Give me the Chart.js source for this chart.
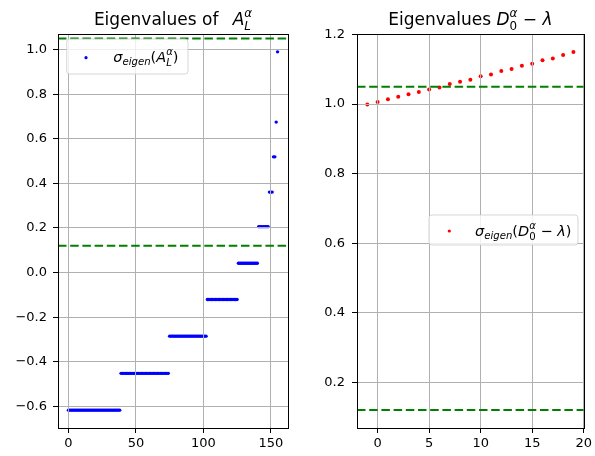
<!DOCTYPE html>
<html>
<head>
<meta charset="utf-8">
<script src="https://cdn.jsdelivr.net/npm/chart.js@4.4.0/dist/chart.umd.min.js"></script>
<style>
    html, body { margin: 0; padding: 0; background: #fff; }
    #wrap { position: relative; width: 595px; height: 456px; }
    #leftBox { position: absolute; left: 0; top: 0; width: 297px; height: 456px; }
    #rightBox { position: absolute; left: 297px; top: 0; width: 298px; height: 456px; }
</style>
</head>
<body>
<div id="wrap">
    <div id="leftBox"><canvas id="leftChart" width="297" height="456"></canvas></div>
    <div id="rightBox"><canvas id="rightChart" width="298" height="456"></canvas></div>
</div>
<script>
// valeurs propres de A_L (index 0..155)
const leftValues = [
    -0.617, -0.617, -0.617, -0.617, -0.617, -0.617, -0.617, -0.617, -0.617, -0.617, -0.617, -0.617, -0.617,
    -0.617, -0.617, -0.617, -0.617, -0.617, -0.617, -0.617, -0.617, -0.617, -0.617, -0.617, -0.617, -0.617,
    -0.617, -0.617, -0.617, -0.617, -0.617, -0.617, -0.617, -0.617, -0.617, -0.617, -0.617, -0.617, -0.617,
    -0.452, -0.452, -0.452, -0.452, -0.452, -0.452, -0.452, -0.452, -0.452, -0.452, -0.452, -0.452,
    -0.452, -0.452, -0.452, -0.452, -0.452, -0.452, -0.452, -0.452, -0.452, -0.452, -0.452, -0.452,
    -0.452, -0.452, -0.452, -0.452, -0.452, -0.452, -0.452, -0.452, -0.452, -0.452, -0.452, -0.452,
    -0.285, -0.285, -0.285, -0.285, -0.285, -0.285, -0.285, -0.285, -0.285, -0.285, -0.285, -0.285, -0.285, -0.285,
    -0.285, -0.285, -0.285, -0.285, -0.285, -0.285, -0.285, -0.285, -0.285, -0.285, -0.285, -0.285, -0.285, -0.285,
    -0.121, -0.121, -0.121, -0.121, -0.121, -0.121, -0.121, -0.121, -0.121, -0.121, -0.121, -0.121,
    -0.121, -0.121, -0.121, -0.121, -0.121, -0.121, -0.121, -0.121, -0.121, -0.121, -0.121,
    0.042, 0.042, 0.042, 0.042, 0.042, 0.042, 0.042, 0.042, 0.042, 0.042, 0.042, 0.042, 0.042, 0.042, 0.042,
    0.206, 0.206, 0.206, 0.206, 0.206, 0.206, 0.206, 0.206,
    0.361, 0.361, 0.361,
    0.519, 0.519,
    0.675,
    0.990
];
const leftTicksX = [0, 50, 100, 150];
const leftTicksY = [-0.6, -0.4, -0.2, 0.0, 0.2, 0.4, 0.6, 0.8, 1.0];
const leftLines = [1.05, 0.12];

// valeurs propres de D_0 - lambda
const rightX = [-1, 0, 1, 2, 3, 4, 5, 6, 7, 8, 9, 10, 11, 12, 13, 14, 15, 16, 17, 18, 19];
const rightValues = [0.999, 1.006, 1.014, 1.021, 1.028, 1.035, 1.042, 1.048, 1.058, 1.064, 1.070,
    1.080, 1.085, 1.095, 1.101, 1.110, 1.116, 1.126, 1.131, 1.141, 1.150];
const rightTicksX = [0, 5, 10, 15, 20];
const rightTicksY = [0.2, 0.4, 0.6, 0.8, 1.0, 1.2];
const rightLines = [1.05, 0.12];

const FONT = '"DejaVu Sans", "Liberation Sans", sans-serif';

function fmtNum(v, digits) {
    return v.toFixed(digits).replace('-', '\u2212');
}

// texte math simple : indices / exposants
function drawMath(ctx, parts, x, y, size, align) {
    let pos = 0, last = 0;
    const items = [];
    parts.forEach(p => {
        const fs = size * (p.s || 1);
        const font = (p.it ? 'italic ' : '') + fs + 'px ' + FONT;
        ctx.font = font;
        const w = ctx.measureText(p.t).width;
        const sx = p.back ? last : pos;
        items.push({ t: p.t, font: font, x: sx, dy: (p.dy || 0) * size });
        last = sx;
        pos = Math.max(pos, sx + w);
    });
    const x0 = align === 'center' ? x - pos / 2 : x;
    ctx.save();
    ctx.fillStyle = '#000';
    ctx.textBaseline = 'alphabetic';
    ctx.textAlign = 'left';
    items.forEach(it => {
        ctx.font = it.font;
        ctx.fillText(it.t, x0 + it.x, y + it.dy);
    });
    ctx.restore();
}

function drawLegendBox(ctx, x, y, w, h) {
    const r = 3;
    ctx.save();
    ctx.beginPath();
    ctx.moveTo(x + r, y);
    ctx.lineTo(x + w - r, y);
    ctx.quadraticCurveTo(x + w, y, x + w, y + r);
    ctx.lineTo(x + w, y + h - r);
    ctx.quadraticCurveTo(x + w, y + h, x + w - r, y + h);
    ctx.lineTo(x + r, y + h);
    ctx.quadraticCurveTo(x, y + h, x, y + h - r);
    ctx.lineTo(x, y + r);
    ctx.quadraticCurveTo(x, y, x + r, y);
    ctx.closePath();
    ctx.fillStyle = 'rgba(255,255,255,0.8)';
    ctx.fill();
    ctx.strokeStyle = 'rgba(204,204,204,0.8)';
    ctx.lineWidth = 1;
    ctx.stroke();
    ctx.restore();
}

const SUB = 0.7;
const leftTitle = [
    { t: 'Eigenvalues of  \u2009' },
    { t: 'A', it: true },
    { t: 'L', it: true, s: SUB, dy: 0.27 },
    { t: '\u03b1', it: true, s: SUB, dy: -0.48, back: true }
];
const rightTitle = [
    { t: 'Eigenvalues ' },
    { t: 'D', it: true },
    { t: '0', s: SUB, dy: 0.27 },
    { t: '\u03b1', it: true, s: SUB, dy: -0.48, back: true },
    { t: ' \u2212 ' },
    { t: '\u03bb', it: true }
];
const leftLegend = [
    { t: '\u03c3', it: true },
    { t: 'eigen', it: true, s: SUB, dy: 0.22 },
    { t: '(' },
    { t: 'A', it: true },
    { t: 'L', it: true, s: SUB, dy: 0.27 },
    { t: '\u03b1', it: true, s: SUB, dy: -0.45, back: true },
    { t: ')' }
];
const rightLegend = [
    { t: '\u03c3', it: true },
    { t: 'eigen', it: true, s: SUB, dy: 0.22 },
    { t: '(' },
    { t: 'D', it: true },
    { t: '0', s: SUB, dy: 0.27 },
    { t: '\u03b1', it: true, s: SUB, dy: -0.45, back: true },
    { t: ' \u2212 ' },
    { t: '\u03bb', it: true },
    { t: ')' }
];

function decorPlugin(lines, title, legend) {
    return {
        id: 'decor',
        afterDatasetsDraw(chart) {
            const ctx = chart.ctx;
            const area = chart.chartArea;
            // grille au-dessus des points (comme matplotlib)
            chart.scales.x.drawGrid(area);
            chart.scales.y.drawGrid(area);
            // lignes horizontales vertes
            ctx.save();
            ctx.beginPath();
            ctx.rect(area.left, area.top, area.right - area.left, area.bottom - area.top);
            ctx.clip();
            ctx.strokeStyle = '#008000';
            ctx.lineWidth = 2;
            ctx.setLineDash([8.5, 3.7]);
            lines.forEach(v => {
                const py = chart.scales.y.getPixelForValue(v);
                ctx.beginPath();
                ctx.moveTo(area.left, py);
                ctx.lineTo(area.right, py);
                ctx.stroke();
            });
            ctx.restore();
            // cadre
            ctx.save();
            ctx.strokeStyle = '#000';
            ctx.lineWidth = 1;
            ctx.strokeRect(Math.round(area.left) + 0.5, Math.round(area.top) + 0.5,
                Math.round(area.right - area.left), Math.round(area.bottom - area.top));
            ctx.restore();
            // titre
            drawMath(ctx, title, (area.left + area.right) / 2, 25, 17, 'center');
            // légende
            drawLegendBox(ctx, area.left + legend.dx, area.top + legend.dy, legend.w, legend.h);
            ctx.save();
            ctx.fillStyle = legend.color;
            ctx.beginPath();
            ctx.arc(area.left + legend.mx, area.top + legend.my, legend.r, 0, Math.PI * 2);
            ctx.fill();
            ctx.restore();
            drawMath(ctx, legend.parts, area.left + legend.tx, area.top + legend.ty, 14.5, 'left');
        }
    };
}

function makeScales(xMin, xMax, yMin, yMax, ticksX, ticksY, yWidth, yPad) {
    const grid = {
        color: '#b0b0b0',
        lineWidth: 1,
        tickColor: '#000',
        tickLength: 5,
        drawTicks: true
    };
    return {
        x: {
            type: 'linear',
            min: xMin,
            max: xMax,
            bounds: 'data',
            grid: grid,
            border: { display: false },
            afterBuildTicks: s => { s.ticks = ticksX.map(v => ({ value: v })); },
            afterFit: s => { s.height = 28; },
            ticks: {
                color: '#000',
                padding: 3,
                maxRotation: 0,
                font: { family: FONT, size: 13 },
                callback: v => fmtNum(v, 0)
            }
        },
        y: {
            type: 'linear',
            min: yMin,
            max: yMax,
            bounds: 'data',
            grid: grid,
            border: { display: false },
            afterBuildTicks: s => { s.ticks = ticksY.map(v => ({ value: v })); },
            afterFit: s => { s.width = yWidth; },
            ticks: {
                color: '#000',
                padding: yPad,
                font: { family: FONT, size: 13 },
                callback: v => fmtNum(v, 1)
            }
        }
    };
}

document.addEventListener('DOMContentLoaded', function() {
    const leftCtx = document.getElementById('leftChart');
    new Chart(leftCtx, {
        type: 'scatter',
        data: {
            datasets: [{
                data: leftValues.map((v, i) => ({ x: i, y: v })),
                backgroundColor: '#0000ff',
                borderWidth: 0,
                pointRadius: 1.7
            }]
        },
        options: {
            responsive: false,
            animation: false,
            layout: { padding: { left: 0, right: 9, top: 34, bottom: 0 } },
            plugins: { legend: { display: false }, tooltip: { enabled: false } },
            scales: makeScales(-7.75, 162.75, -0.697, 1.070, leftTicksX, leftTicksY, 58, 6)
        },
        plugins: [decorPlugin(leftLines, leftTitle, {
            dx: 8.7, dy: 5, w: 121.3, h: 35, mx: 28, my: 23.7, r: 1.6,
            tx: 55.3, ty: 27.7, color: '#0000ff', parts: leftLegend
        })]
    });

    const rightCtx = document.getElementById('rightChart');
    new Chart(rightCtx, {
        type: 'scatter',
        data: {
            datasets: [{
                data: rightX.map((x, i) => ({ x: x, y: rightValues[i] })),
                backgroundColor: '#ff0000',
                borderWidth: 0,
                pointRadius: 2
            }]
        },
        options: {
            responsive: false,
            animation: false,
            layout: { padding: { left: 0, right: 9, top: 34, bottom: 0 } },
            plugins: { legend: { display: false }, tooltip: { enabled: false } },
            scales: makeScales(-2, 20, 0.0685, 1.2015, rightTicksX, rightTicksY, 60, 7)
        },
        plugins: [decorPlugin(rightLines, rightTitle, {
            dx: 72, dy: 181, w: 149, h: 30, mx: 92.3, my: 197, r: 1.6,
            tx: 118, ty: 202, color: '#ff0000', parts: rightLegend
        })]
    });
});
</script>
</body>
</html>
